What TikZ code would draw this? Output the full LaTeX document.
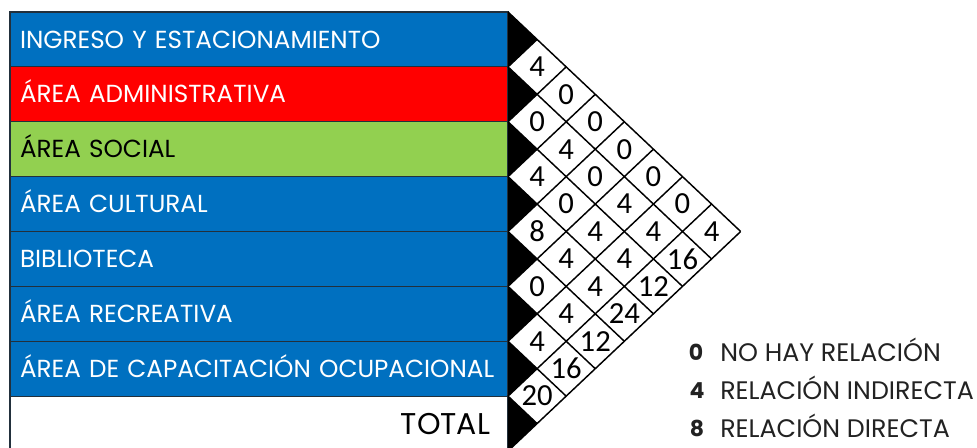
\documentclass[tikz,border=0pt]{standalone}
\usepackage{fontspec}
\setmainfont{Poppins}
\newfontfamily\numfont{Carlito}
\usetikzlibrary{positioning}
\definecolor{AreaBlue}{HTML}{0070C0}
\definecolor{AreaRed}{HTML}{FF0000}
\definecolor{AreaGreen}{HTML}{92D050}
\definecolor{AreaEdge}{HTML}{22303C}
\definecolor{KeyInk}{HTML}{222222}
\tikzset{
  areabox/.style={draw=AreaEdge,line width=0.8pt,outer sep=0pt,inner ysep=0pt,inner xsep=7.5pt,
    minimum width=373.5pt,minimum height=41.16pt,text width=358.5pt,align=left,
    text height=12.9pt,text depth=0pt,text=white,font=\fontsize{18.5}{18.5}\selectfont},
  totalbox/.style={areabox,fill=white,text=black,align=right,inner xsep=13.5pt,text width=346.5pt,
    text height=15.7pt,font=\fontsize{22.5}{22.5}\selectfont},
  gridline/.style={line width=1.1pt},
  cellnum/.style={font=\numfont\fontsize{23}{23}\selectfont,inner sep=0pt},
  keynum/.style={font=\fontsize{16.5}{16.5}\selectfont\bfseries,text=KeyInk,inner sep=0pt,
    text height=11.5pt,text depth=0pt},
  keytext/.style={font=\fontsize{19}{19}\selectfont,text=KeyInk,inner sep=0pt,anchor=west,
    text height=13.3pt,text depth=0pt}
}
\def\rowh{54.875}
\def\gx{508}
\def\kx{1.06}

\begin{document}
\begin{tikzpicture}[x=0.75pt,y=-0.75pt]
  \useasboundingbox (0,0) rectangle (977,447);
  % areas
  \node[areabox,fill=AreaBlue,anchor=north west] (ingreso) at (10,12) {INGRESO Y ESTACIONAMIENTO};
  \node[areabox,fill=AreaRed,below=0pt of ingreso] (admin) {ÁREA ADMINISTRATIVA};
  \node[areabox,fill=AreaGreen,text=black,below=0pt of admin] (social) {ÁREA SOCIAL};
  \node[areabox,fill=AreaBlue,below=0pt of social] (cultural) {ÁREA CULTURAL};
  \node[areabox,fill=AreaBlue,below=0pt of cultural] (biblio) {BIBLIOTECA};
  \node[areabox,fill=AreaBlue,below=0pt of biblio] (recreativa) {ÁREA RECREATIVA};
  \node[areabox,fill=AreaBlue,below=0pt of recreativa] (capacitacion) {ÁREA DE CAPACITACIÓN OCUPACIONAL};
  \node[totalbox,below=0pt of capacitacion] (total) {TOTAL};

  % triangular matrix
  \foreach \r in {1,...,8} {
    \pgfmathsetmacro\btop{12+(\r-1)*\rowh}
    \fill (\gx,\btop) -- ++({\kx*\rowh/2},{\rowh/2}) -- (\gx,\btop+\rowh) -- cycle;
  }
  \foreach \r in {1,...,8} {
    \pgfmathsetmacro\btop{12+(\r-1)*\rowh}
    \pgfmathsetmacro\dd{(9-\r)*\rowh/2}
    \draw[gridline] (\gx,\btop) -- ++({\kx*\dd},\dd);
    \pgfmathsetmacro\bb{12+\r*\rowh}
    \pgfmathsetmacro\du{\r*\rowh/2}
    \draw[gridline] (\gx,\bb) -- ++({\kx*\du},-\du);
  }
  \foreach \i/\j/\v in {1/2/4,2/3/0,3/4/4,4/5/8,5/6/0,6/7/4,7/8/20,
      1/3/0,2/4/4,3/5/0,4/6/4,5/7/4,6/8/16,
      1/4/0,2/5/0,3/6/4,4/7/4,5/8/12,
      1/5/0,2/6/4,3/7/4,4/8/24,
      1/6/0,2/7/4,3/8/12,
      1/7/0,2/8/16,
      1/8/4}
    \node[cellnum] (c\i\j) at ({\gx+\kx*(\j-\i)*\rowh/2},{12+(\i+\j-1)*\rowh/2}) {\v};

  % key
  \node[keynum] (k0) at (696,353) {0};
  \node[keytext] (k0txt) at (720,353) {NO HAY RELACIÓN};
  \node[keynum] (k4) at (697,391) {4};
  \node[keytext] (k4txt) at (720,391) {RELACIÓN INDIRECTA};
  \node[keynum] (k8) at (697,429) {8};
  \node[keytext] (k8txt) at (720,429) {RELACIÓN DIRECTA};
\end{tikzpicture}
\end{document}
